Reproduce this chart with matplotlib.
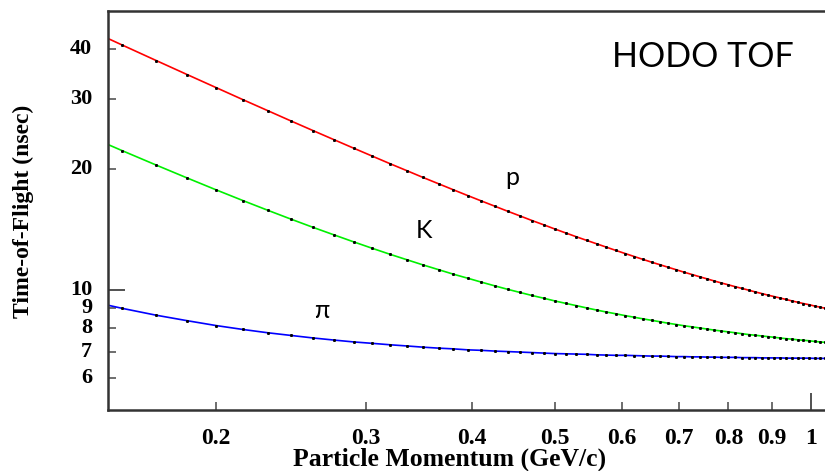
import matplotlib
matplotlib.use("Agg")
import matplotlib.pyplot as plt
from matplotlib.ticker import FixedLocator, NullFormatter

# Momentum (GeV/c) of sampled points
momentum = [0.14, 0.155, 0.17, 0.185, 0.20, 0.215, 0.23, 0.245, 0.26, 0.275,
            0.29, 0.305, 0.32, 0.335, 0.35, 0.365, 0.38, 0.395, 0.41, 0.425,
            0.44, 0.455, 0.47, 0.485, 0.50, 0.515, 0.53, 0.545, 0.56, 0.575,
            0.59, 0.605, 0.62, 0.635, 0.65, 0.665, 0.68, 0.695, 0.71, 0.725,
            0.74, 0.755, 0.77, 0.785, 0.80, 0.815, 0.83, 0.845, 0.86, 0.875,
            0.89, 0.905, 0.92, 0.935, 0.95, 0.965, 0.98, 0.995, 1.01, 1.025,
            1.04, 1.055]

# Time-of-flight (nsec)
tof_proton = [45.20, 40.92, 37.41, 34.48, 32.00, 29.86, 28.02, 26.40, 24.98, 23.72,
              22.59, 21.58, 20.66, 19.84, 19.08, 18.40, 17.77, 17.19, 16.66, 16.17,
              15.71, 15.29, 14.89, 14.53, 14.18, 13.86, 13.56, 13.28, 13.02, 12.77,
              12.53, 12.31, 12.10, 11.90, 11.71, 11.54, 11.37, 11.21, 11.05, 10.91,
              10.77, 10.64, 10.51, 10.39, 10.28, 10.17, 10.07, 9.97, 9.87, 9.78,
              9.69, 9.61, 9.53, 9.45, 9.37, 9.30, 9.23, 9.17, 9.10, 9.04,
              8.98, 8.93]
tof_kaon = [24.45, 22.27, 20.49, 19.01, 17.76, 16.70, 15.79, 15.00, 14.31, 13.71,
            13.17, 12.69, 12.26, 11.88, 11.53, 11.22, 10.93, 10.68, 10.44, 10.22,
            10.02, 9.84, 9.67, 9.52, 9.37, 9.24, 9.12, 9.00, 8.89, 8.79,
            8.70, 8.61, 8.53, 8.45, 8.38, 8.31, 8.24, 8.18, 8.12, 8.07,
            8.02, 7.97, 7.92, 7.88, 7.84, 7.80, 7.76, 7.72, 7.69, 7.66,
            7.63, 7.60, 7.57, 7.54, 7.52, 7.49, 7.47, 7.45, 7.42, 7.40,
            7.38, 7.36]
tof_pion = [9.42, 8.98, 8.63, 8.36, 8.13, 7.95, 7.80, 7.68, 7.57, 7.48,
            7.40, 7.34, 7.28, 7.23, 7.18, 7.14, 7.11, 7.07, 7.05, 7.02,
            7.00, 6.98, 6.96, 6.94, 6.92, 6.91, 6.90, 6.89, 6.87, 6.86,
            6.85, 6.85, 6.84, 6.83, 6.82, 6.82, 6.81, 6.80, 6.80, 6.79,
            6.79, 6.78, 6.78, 6.77, 6.77, 6.77, 6.76, 6.76, 6.76, 6.75,
            6.75, 6.75, 6.75, 6.74, 6.74, 6.74, 6.74, 6.74, 6.73, 6.73,
            6.73, 6.73]

x_ticks = [0.2, 0.3, 0.4, 0.5, 0.6, 0.7, 0.8, 0.9, 1.0]
x_tick_labels = ["0.2", "0.3", "0.4", "0.5", "0.6", "0.7", "0.8", "0.9", "1"]
y_ticks = [6, 7, 8, 9, 10, 20, 30, 40]
y_tick_labels = ["6", "7", "8", "9", "10", "20", "30", "40"]

W, H = 825, 471
fig = plt.figure(figsize=(W / 100, H / 100), dpi=100)
ax = fig.add_axes([108 / W, 1 - 410 / H, (830 - 108) / W, (410 - 10.7) / H])
ax.set_xscale("log")
ax.set_yscale("log")
ax.set_xlim(0.1492, 1.053)
ax.set_ylim(5.0, 49.85)

serif = ["Liberation Serif", "DejaVu Serif"]
for series, col in [(tof_proton, "#ff0000"), (tof_kaon, "#00f000"), (tof_pion, "#0000ff")]:
    ax.plot(momentum, series, color=col, lw=1.2, zorder=2)
    ax.plot(momentum, series, ls="none", marker="s", ms=1.1, mec="black", mfc="black", zorder=3)

ax.xaxis.set_major_locator(FixedLocator([1.0]))
ax.xaxis.set_minor_locator(FixedLocator([t for t in x_ticks if t != 1.0]))
ax.xaxis.set_major_formatter(NullFormatter())
ax.xaxis.set_minor_formatter(NullFormatter())
ax.yaxis.set_major_locator(FixedLocator([10]))
ax.yaxis.set_minor_locator(FixedLocator([t for t in y_ticks if t != 10]))
ax.yaxis.set_major_formatter(NullFormatter())
ax.yaxis.set_minor_formatter(NullFormatter())
ax.tick_params(which="major", direction="in", length=12, width=1.2, color="#333333")
ax.tick_params(which="minor", direction="in", length=6, width=1.2, color="#555555")
ax.tick_params(top=False, right=False)

for xt, lab in zip(x_ticks, x_tick_labels):
    ax.text(xt, -0.045, lab, transform=ax.get_xaxis_transform(), ha="center", va="top",
            family=serif, fontweight="bold", fontsize=17)
for yt, lab in zip(y_ticks, y_tick_labels):
    ax.text(-0.022, yt, lab, transform=ax.get_yaxis_transform(), ha="right", va="center",
            family=serif, fontweight="bold", fontsize=16)

for s in ["left", "bottom", "top"]:
    ax.spines[s].set_color("#333333")
    ax.spines[s].set_linewidth(1.8)
ax.spines["right"].set_visible(False)

fig.text(450 / W, 1 - 459 / H, "Particle Momentum (GeV/c)", ha="center", va="center",
         family=serif, fontweight="bold", fontsize=18.5)
fig.text(23 / W, 1 - 211 / H, "Time-of-Flight (nsec)", ha="center", va="center", rotation=90,
         family=serif, fontweight="bold", fontsize=17)

sans = ["Lato", "DejaVu Sans"]
fig.text(612 / W, 1 - 66.7 / H, "HODO TOF", ha="left", va="baseline", family=sans, fontsize=24.5)
ax.text(0.445, 19.1, "p", ha="center", va="center", family=sans, fontsize=18)
ax.text(0.351, 14.06, "K", ha="center", va="center", family=sans, fontsize=18)
ax.text(0.266, 8.88, "π", ha="center", va="center", family=sans, fontsize=18)

fig.savefig("out.png", dpi=100)
